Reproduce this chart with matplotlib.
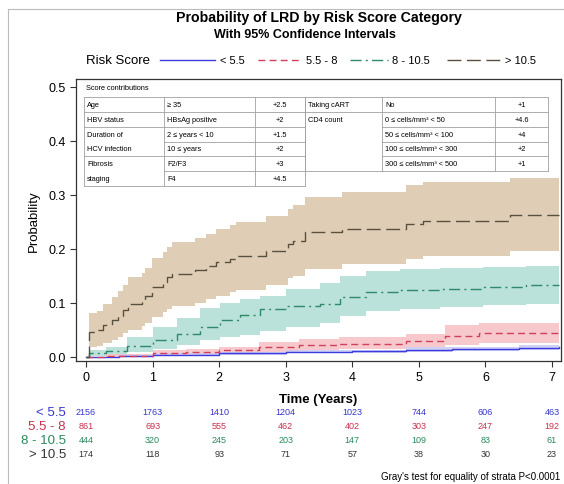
import matplotlib
matplotlib.use("Agg")
import matplotlib.pyplot as plt
from matplotlib.lines import Line2D
import numpy as np

plt.rcParams['font.family'] = ['Liberation Sans', 'DejaVu Sans']

W, H = 564, 485

# ---------------- data ----------------
groups = ["< 5.5", "5.5 - 8", "8 - 10.5", "> 10.5"]

t_low = [0, 0.5, 1.0, 2.0, 3.0, 4.0, 4.8, 5.5, 6.5, 7.1]
est_low = [0, 0.002, 0.003, 0.006, 0.009, 0.010, 0.013, 0.014, 0.016, 0.018]
lo_low = [0, 0.000, 0.001, 0.003, 0.006, 0.007, 0.009, 0.010, 0.012, 0.013]
hi_low = [0, 0.004, 0.006, 0.009, 0.012, 0.013, 0.017, 0.018, 0.021, 0.023]

t_mid = [0, 0.3, 1.0, 1.5, 2.0, 2.6, 3.2, 3.8, 4.8, 5.4, 5.9, 7.1]
est_mid = [0, 0.002, 0.006, 0.009, 0.012, 0.018, 0.021, 0.024, 0.029, 0.039, 0.044, 0.044]
lo_mid = [0, 0.000, 0.002, 0.004, 0.006, 0.009, 0.012, 0.014, 0.017, 0.021, 0.025, 0.027]
hi_mid = [0, 0.005, 0.012, 0.015, 0.018, 0.028, 0.033, 0.036, 0.042, 0.058, 0.062, 0.063]

t_high = [0, 0.05, 0.3, 0.61, 1.01, 1.36, 1.71, 2.01, 2.31, 2.61, 3.01, 3.51, 3.81,
          4.21, 4.71, 5.31, 5.96, 6.61, 7.1]
est_high = [0, 0.006, 0.010, 0.020, 0.031, 0.042, 0.055, 0.067, 0.077, 0.088, 0.093,
            0.097, 0.110, 0.120, 0.123, 0.126, 0.129, 0.132, 0.133]
lo_high = [0, 0.002, 0.004, 0.009, 0.015, 0.021, 0.030, 0.036, 0.041, 0.047, 0.055,
           0.063, 0.076, 0.084, 0.089, 0.092, 0.095, 0.097, 0.098]
hi_high = [0, 0.012, 0.018, 0.037, 0.055, 0.072, 0.090, 0.100, 0.106, 0.113, 0.125,
           0.136, 0.150, 0.158, 0.163, 0.165, 0.166, 0.168, 0.169]

t_vhigh = [0, 0.05, 0.16, 0.26, 0.39, 0.48, 0.56, 0.63, 0.84, 0.89, 0.99, 1.16, 1.21,
           1.29, 1.64, 1.81, 1.96, 2.16, 2.26, 2.71, 3.04, 3.11, 3.29, 3.84, 4.81,
           5.06, 6.37, 7.1]
est_vhigh = [0, 0.045, 0.049, 0.058, 0.067, 0.076, 0.086, 0.098, 0.104, 0.113, 0.129,
             0.138, 0.147, 0.153, 0.160, 0.168, 0.175, 0.181, 0.187, 0.196, 0.209,
             0.215, 0.230, 0.237, 0.246, 0.252, 0.262, 0.262]
lo_vhigh = [0, 0.018, 0.020, 0.025, 0.031, 0.037, 0.043, 0.050, 0.056, 0.062, 0.074,
            0.082, 0.089, 0.094, 0.100, 0.107, 0.113, 0.119, 0.124, 0.132, 0.145,
            0.150, 0.163, 0.172, 0.181, 0.187, 0.196, 0.196]
hi_vhigh = [0, 0.080, 0.085, 0.097, 0.110, 0.122, 0.133, 0.148, 0.155, 0.165, 0.183,
            0.193, 0.203, 0.212, 0.219, 0.228, 0.236, 0.243, 0.250, 0.260, 0.274,
            0.280, 0.296, 0.305, 0.317, 0.323, 0.330, 0.330]

risk_times = [0, 1, 2, 3, 4, 5, 6, 7]
risk_low = [2156, 1763, 1410, 1204, 1023, 744, 606, 463]
risk_mid = [861, 693, 555, 462, 402, 303, 247, 192]
risk_high = [444, 320, 245, 203, 147, 109, 83, 61]
risk_vhigh = [174, 118, 93, 71, 57, 38, 30, 23]

left_rows = [["Age", "\u2265 35", "+2.5"],
             ["HBV status", "HBsAg positive", "+2"],
             ["Duration of", "2 \u2264 years < 10", "+1.5"],
             ["HCV infection", "10 \u2264 years", "+2"],
             ["Fibrosis", "F2/F3", "+3"],
             ["staging", "F4", "+4.5"]]
right_rows = [["Taking cART", "No", "+1"],
              ["CD4 count", "0 \u2264 cells/mm\u00b3 < 50", "+4.6"],
              ["", "50 \u2264 cells/mm\u00b3 < 100", "+4"],
              ["", "100 \u2264 cells/mm\u00b3 < 300", "+2"],
              ["", "300 \u2264 cells/mm\u00b3 < 500", "+1"]]

# ---------------- styles ----------------
line_cols = ["#3b3be0", "#d0405a", "#2f8a6a", "#5a5040"]
band_cols = ["#c9c9f2", "#f6c0c4", "#aedcd4", "#dac6a8"]
text_cols = ["#3535d0", "#c8304c", "#2a8a5a", "#333333"]
styles = ["-", (0, (5, 3)), (0, (8, 3, 1.5, 3)), (0, (10, 4))]

fig = plt.figure(figsize=(W / 100, H / 100), dpi=100)


def fx(x):
    return x / W


def fy(y):
    return 1 - y / H


ax = fig.add_axes([fx(76), fy(362), fx(561) - fx(76), fy(80) - fy(362)])

series = [(t_low, est_low, lo_low, hi_low),
          (t_mid, est_mid, lo_mid, hi_mid),
          (t_high, est_high, lo_high, hi_high),
          (t_vhigh, est_vhigh, lo_vhigh, hi_vhigh)]

for i in [3, 2, 1, 0]:
    t, e, lo, hi = series[i]
    ax.fill_between(t, lo, hi, step="post", color=band_cols[i], lw=0, alpha=0.85)
for i in [0, 1, 2, 3]:
    t, e, lo, hi = series[i]
    ax.step(t, e, where="post", color=line_cols[i], lw=1.0, linestyle=styles[i])

ax.set_xlim(-0.15, 7.135)
ax.set_ylim(-0.008, 0.514)
ax.set_xticks(range(8))
ax.set_yticks([0, 0.1, 0.2, 0.3, 0.4, 0.5])
ax.set_yticklabels(["0.0", "0.1", "0.2", "0.3", "0.4", "0.5"])
ax.tick_params(labelsize=9, color="#333333", length=4, width=0.8)
for s in ax.spines.values():
    s.set_color("#333333")
    s.set_linewidth(0.9)
ax.set_ylabel("Probability", fontsize=9.5, labelpad=6)
ax.set_xlabel("Time (Years)", fontsize=9.5, fontweight="bold", labelpad=7)

# titles
fig.text(fx(319), fy(18), "Probability of LRD by Risk Score Category",
         ha="center", va="center", fontsize=10.2, fontweight="bold")
fig.text(fx(305), fy(35), "With 95% Confidence Intervals",
         ha="center", va="center", fontsize=9, fontweight="bold")

# legend
ly = 61
fig.text(fx(86), fy(ly), "Risk Score", ha="left", va="center", fontsize=9.5)
seg = [(160, 215), (258, 302), (350, 388), (447, 501)]
labx = [220, 306, 392, 505]
for i in range(4):
    fig.add_artist(Line2D([fx(seg[i][0]), fx(seg[i][1])], [fy(ly), fy(ly)],
                          color=line_cols[i], lw=1.0, linestyle=styles[i]))
    fig.text(fx(labx[i]), fy(ly), groups[i], ha="left", va="center", fontsize=8)

# score table
tc = "#a0a0a0"
fs = 5.3


def hline(x0, x1, y):
    fig.add_artist(Line2D([fx(x0), fx(x1)], [fy(y), fy(y)], color=tc, lw=0.6))


def vline(x, y0, y1):
    fig.add_artist(Line2D([fx(x), fx(x)], [fy(y0), fy(y1)], color=tc, lw=0.6))


fig.text(fx(86), fy(88), "Score contributions", ha="left", va="center", fontsize=fs)

lc = [84, 164, 255, 305]
lr = [98, 113, 128, 142.5, 157, 172, 187]
hline(lc[0], lc[3], lr[0])
hline(lc[0], lc[3], lr[1])
hline(lc[0], lc[3], lr[2])
hline(lc[1], lc[3], lr[3])
hline(lc[0], lc[3], lr[4])
hline(lc[1], lc[3], lr[5])
hline(lc[0], lc[3], lr[6])
for x in lc:
    vline(x, lr[0], lr[6])
for r, row in enumerate(left_rows):
    yc = (lr[r] + lr[r + 1]) / 2
    fig.text(fx(lc[0] + 3), fy(yc), row[0], ha="left", va="center", fontsize=fs)
    fig.text(fx(lc[1] + 3), fy(yc), row[1], ha="left", va="center", fontsize=fs)
    fig.text(fx((lc[2] + lc[3]) / 2), fy(yc), row[2], ha="center", va="center", fontsize=fs)

rc = [305, 382, 495, 548]
rr = [98, 113, 128, 142.5, 157, 172]
hline(rc[0], rc[3], rr[0])
hline(rc[0], rc[3], rr[1])
for y in rr[2:5]:
    hline(rc[1], rc[3], y)
hline(rc[0], rc[3], rr[5])
for x in rc:
    vline(x, rr[0], rr[5])
for r, row in enumerate(right_rows):
    yc = (rr[r] + rr[r + 1]) / 2
    if row[0]:
        fig.text(fx(rc[0] + 3), fy(yc), row[0], ha="left", va="center", fontsize=fs)
    fig.text(fx(rc[1] + 3), fy(yc), row[1], ha="left", va="center", fontsize=fs)
    fig.text(fx((rc[2] + rc[3]) / 2), fy(yc), row[2], ha="center", va="center", fontsize=fs)

# risk table
risk = [risk_low, risk_mid, risk_high, risk_vhigh]
rows_y = [413, 427, 441, 455]
for i in range(4):
    fig.text(fx(66), fy(rows_y[i]), groups[i], ha="right", va="center",
             fontsize=9.5, color=text_cols[i])
    for t, n in zip(risk_times, risk[i]):
        xpix = 86 + t * (552 - 86) / 7
        fig.text(fx(xpix), fy(rows_y[i]), str(n), ha="center", va="center",
                 fontsize=6.5, color=text_cols[i])

fig.text(fx(560), fy(477), "Gray's test for equality of strata P<0.0001",
         ha="right", va="center", fontsize=7)

# outer frame
fig.add_artist(Line2D([fx(8), fx(8)], [fy(10), fy(485)], color="#bbbbbb", lw=0.8))
fig.add_artist(Line2D([fx(8), fx(564)], [fy(10), fy(10)], color="#bbbbbb", lw=0.8))

fig.savefig("out.png", dpi=100)
